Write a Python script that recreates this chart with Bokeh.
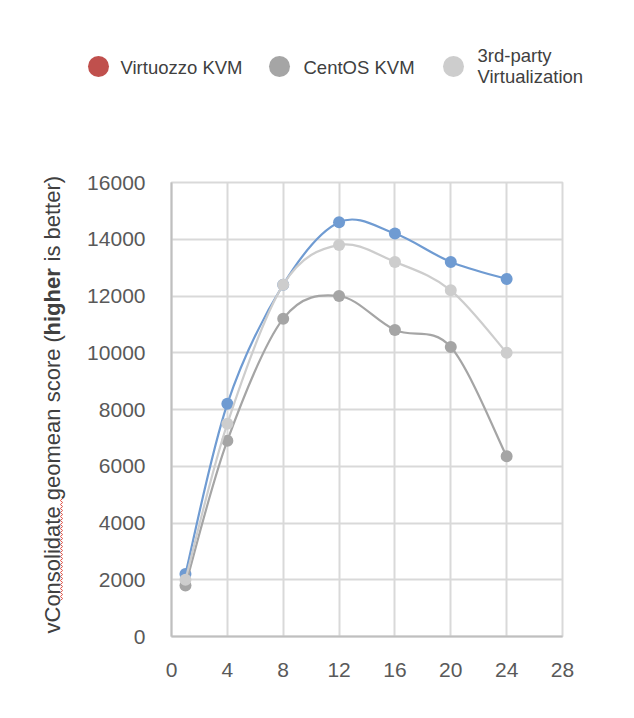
import numpy as np
from bokeh.plotting import figure
from bokeh.layouts import column, row
from bokeh.models import ColumnDataSource, FixedTicker, Range1d, Label
from bokeh.core.properties import value
from bokeh.embed import file_html
from bokeh.resources import INLINE

# ---- data ----
vcpus = [1, 4, 8, 12, 16, 20, 24]
virtuozzo_kvm = [2200, 8200, 12400, 14600, 14200, 13200, 12600]
centos_kvm = [1800, 6900, 11200, 12000, 10800, 10200, 6350]
third_party = [2000, 7500, 12400, 13800, 13200, 12200, 10000]
series_names = ["Virtuozzo KVM", "CentOS KVM", "3rd-party Virtualization"]
x_ticks = [0, 4, 8, 12, 16, 20, 24, 28]
y_ticks = [0, 2000, 4000, 6000, 8000, 10000, 12000, 14000, 16000]
y_label_parts = ["vConsolidate geomean score (", "higher", "is better)"]

FONT = value("Liberation Sans")
LINE_BLUE = "#6F9BD2"
DARK_GRAY = "#A5A5A5"
LIGHT_GRAY = "#CDCDCD"
LEGEND_RED = "#C0504D"
TEXT_COLOR = "#404040"

LAB_W = 68
MAIN_W = 558
LEG_H = 138
FIG_H = 572
TOTAL_H = LEG_H + FIG_H


def smooth_source(xs, ys):
    """Bezier control points (Excel-like smoothing) derived from the data."""
    xs = list(xs)
    ys = list(ys)
    n = len(xs)
    d = dict(x0=[], y0=[], x1=[], y1=[], cx0=[], cy0=[], cx1=[], cy1=[])
    for i in range(n - 1):
        ip = max(i - 1, 0)
        inn = min(i + 2, n - 1)
        d["x0"].append(xs[i]); d["y0"].append(ys[i])
        d["x1"].append(xs[i + 1]); d["y1"].append(ys[i + 1])
        d["cx0"].append(xs[i] + (xs[i + 1] - xs[ip]) / 6.0)
        d["cy0"].append(ys[i] + (ys[i + 1] - ys[ip]) / 6.0)
        d["cx1"].append(xs[i + 1] - (xs[inn] - xs[i]) / 6.0)
        d["cy1"].append(ys[i + 1] - (ys[inn] - ys[i]) / 6.0)
    return ColumnDataSource(d)


def blank(width, height):
    f = figure(width=width, height=height, output_backend="svg", toolbar_location=None,
               x_range=Range1d(0, width), y_range=Range1d(0, height),
               x_axis_location=None, y_axis_location=None,
               min_border=0, min_border_left=0, min_border_right=0,
               min_border_top=0, min_border_bottom=0)
    f.grid.visible = False
    f.outline_line_color = None
    f.background_fill_color = "white"
    f.border_fill_color = "white"
    f.frame_align = False
    return f


# ---- legend strip (x measured from the right edge of the label strip) ----
leg = blank(MAIN_W, LEG_H)
leg.scatter(x=[30, 211, 385], y=[72, 72, 72], size=21, marker="circle",
            fill_color=[LEGEND_RED, DARK_GRAY, LIGHT_GRAY], line_color=None)
leg.text(x=[52, 235], y=[71, 71], text=series_names[:2], text_font=FONT,
         text_font_size="18.5px", text_color=TEXT_COLOR, text_baseline="middle", text_align="left")
leg.text(x=[409, 409], y=[83, 62], text=["3rd-party", "Virtualization"], text_font=FONT,
         text_font_size="18.5px", text_color=TEXT_COLOR, text_baseline="middle", text_align="left")

# ---- y-axis label strip (full height) ----
lab = blank(LAB_W, TOTAL_H)
label_starts = [77, 375, 449]
label_styles = ["normal", "bold", "normal"]
for part, y0, style in zip(y_label_parts, label_starts, label_styles):
    lab.add_layout(Label(x=52, y=y0, text=part, angle=np.pi / 2, text_font="Liberation Sans",
                         text_font_size="22px", text_font_style=style, text_color=TEXT_COLOR,
                         text_baseline="middle", text_align="left"))
# spell-check squiggle under "Consolidate"
sq_y = np.arange(110, 214, 2.0)
sq_x = 61 + np.where(np.arange(len(sq_y)) % 2 == 0, -1.2, 1.2)
lab.line(x=sq_x, y=sq_y, line_color="#E05A50", line_width=1)

# ---- main chart ----
p = figure(width=MAIN_W, height=FIG_H, output_backend="svg", toolbar_location=None,
           x_range=Range1d(0, 28), y_range=Range1d(0, 16000),
           min_border_left=103, min_border_right=64, min_border_top=44, min_border_bottom=74)
p.background_fill_color = "white"
p.border_fill_color = "white"
p.outline_line_color = "#D9D9D9"
p.outline_line_width = 2

p.xaxis.ticker = FixedTicker(ticks=x_ticks)
p.yaxis.ticker = FixedTicker(ticks=y_ticks)
for ax in (p.xaxis, p.yaxis):
    ax.axis_line_color = "#BFBFBF"
    ax.axis_line_width = 2
    ax.major_tick_line_color = None
    ax.minor_tick_line_color = None
    ax.major_label_text_font = "Liberation Sans"
    ax.major_label_text_font_size = "21px"
    ax.major_label_text_color = "#595959"
    ax.major_label_standoff = 20
p.xgrid.ticker = FixedTicker(ticks=x_ticks)
p.ygrid.ticker = FixedTicker(ticks=y_ticks)
p.grid.grid_line_color = "#D9D9D9"
p.grid.grid_line_width = 2

for ys, col in ((virtuozzo_kvm, LINE_BLUE), (centos_kvm, DARK_GRAY), (third_party, LIGHT_GRAY)):
    src = smooth_source(vcpus, ys)
    p.bezier(x0="x0", y0="y0", x1="x1", y1="y1", cx0="cx0", cy0="cy0", cx1="cx1", cy1="cy1",
             source=src, line_color=col, line_width=2.2)
    p.scatter(x=vcpus, y=ys, size=12, marker="circle", fill_color=col, line_color=None)

layout = row(lab, column(leg, p))
open("out.html", "w").write(file_html(layout, INLINE))
